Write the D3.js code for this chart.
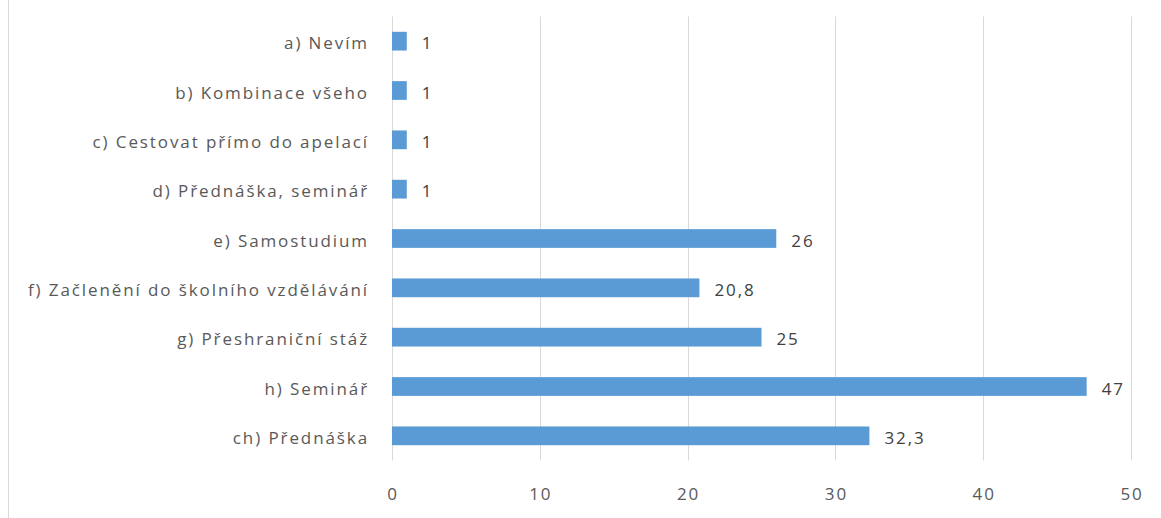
<!DOCTYPE html>
<html>
<head>
<meta charset="utf-8">
<title>Chart</title>
<script src="https://d3js.org/d3.v7.min.js"></script>
<style>
  body { margin: 0; background: #fff; }
  text { font-family: "Open Sans", "Noto Sans", sans-serif; font-size: 17px; letter-spacing: 1.9px; }
</style>
</head>
<body>
<div id="chart"></div>
<script>
// data
var categories = ["a) Nevím", "b) Kombinace všeho", "c) Cestovat přímo do apelací",
                  "d) Přednáška, seminář", "e) Samostudium",
                  "f) Začlenění do školního vzdělávání", "g) Přeshraniční stáž",
                  "h) Seminář", "ch) Přednáška"];
var values = [1, 1, 1, 1, 26, 20.8, 25, 47, 32.3];
var labels = ["1", "1", "1", "1", "26", "20,8", "25", "47", "32,3"];
var ticks = [0, 10, 20, 30, 40, 50];

var width = 1161, height = 518;
var plotLeft = 392, plotRight = 1131, plotTop = 16.5, plotBottom = 460.5;

var svg = d3.select("#chart").append("svg")
  .attr("width", width)
  .attr("height", height);

// frame line at the left
svg.append("line")
  .attr("x1", 8.5).attr("x2", 8.5)
  .attr("y1", 0).attr("y2", height)
  .style("stroke", "#d9d9d9");

var x = d3.scaleLinear().domain([0, 50]).range([plotLeft, plotRight]);
var y = d3.scaleBand().domain(categories).range([plotTop, plotBottom]).paddingInner(0.62).paddingOuter(0.31);

// gridlines
svg.selectAll(".grid")
  .data(ticks)
  .enter()
  .append("line")
  .attr("x1", function(d) { return Math.round(x(d)) + 0.5; })
  .attr("x2", function(d) { return Math.round(x(d)) + 0.5; })
  .attr("y1", plotTop)
  .attr("y2", plotBottom)
  .style("stroke", "#d9d9d9")
  .style("stroke-width", 1);

// x tick labels (letter-spacing adds a trailing gap, so nudge right by half)
svg.selectAll(".xt")
  .data(ticks)
  .enter()
  .append("text")
  .attr("x", function(d) { return x(d) + 1; })
  .attr("y", 499.5)
  .attr("text-anchor", "middle")
  .style("fill", "#595959")
  .text(function(d) { return d; });

// category labels
svg.selectAll(".cat")
  .data(categories)
  .enter()
  .append("text")
  .attr("x", 369)
  .attr("y", function(d) { return y(d) + y.bandwidth() / 2 + 8; })
  .attr("text-anchor", "end")
  .style("fill", "#595959")
  .text(function(d) { return d; });

// bars
svg.selectAll(".bar")
  .data(values)
  .enter()
  .append("rect")
  .attr("x", x(0))
  .attr("y", function(d, i) { return y(categories[i]); })
  .attr("width", function(d) { return x(d) - x(0); })
  .attr("height", y.bandwidth())
  .style("fill", "#5b9bd5");

// value labels
svg.selectAll(".val")
  .data(values)
  .enter()
  .append("text")
  .attr("x", function(d) { return x(d) + 15; })
  .attr("y", function(d, i) { return y(categories[i]) + y.bandwidth() / 2 + 8; })
  .style("fill", "#404040")
  .text(function(d, i) { return labels[i]; });
</script>
</body>
</html>
